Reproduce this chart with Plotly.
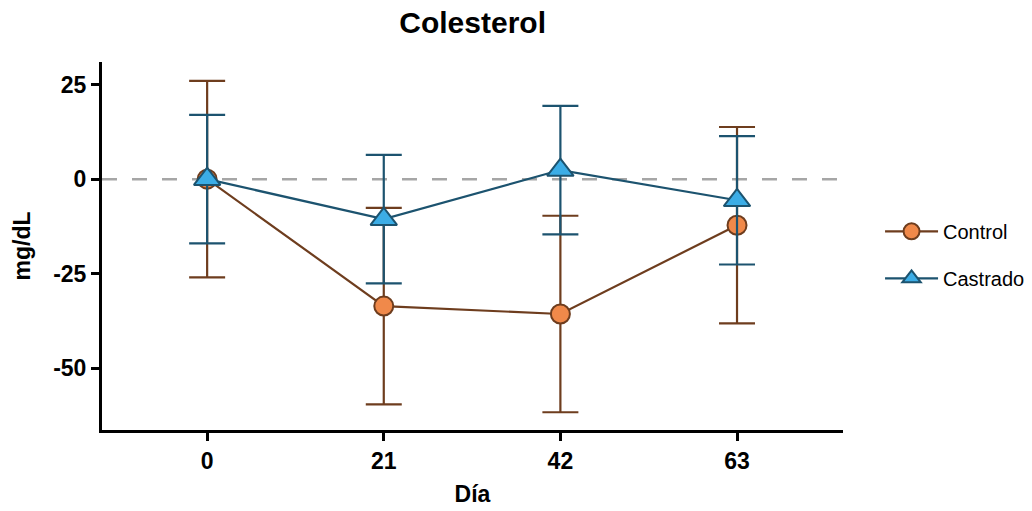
import plotly.graph_objects as go

dias = [0, 21, 42, 63]
control = [0, -33.6, -35.7, -12.2]
control_err = [26, 26, 26, 26]
castrado = [0, -10.6, 2.4, -5.6]
castrado_err = [17, 17, 17, 17]
yticks = [-50, -25, 0, 25]

brown = "#6E3D1E"
orange = "#F0894A"
navy = "#1C536F"
sky = "#3CADE6"

fig = go.Figure()
fig.add_trace(go.Scatter(
    x=dias, y=control, name="Control", mode="lines+markers",
    line=dict(color=brown, width=2.2),
    marker=dict(symbol="circle", size=19, color=orange, line=dict(color=brown, width=2)),
    error_y=dict(type="data", array=control_err, visible=True, color=brown, thickness=2.2, width=18),
    legendgroup="a",
))
fig.add_trace(go.Scatter(
    x=dias, y=castrado, name="Castrado", mode="lines+markers",
    line=dict(color=navy, width=2.2),
    marker=dict(symbol="triangle-up", size=23, color=sky, line=dict(color=navy, width=2)),
    error_y=dict(type="data", array=castrado_err, visible=True, color=navy, thickness=2.2, width=18),
    legendgroup="b",
))

fig.add_shape(type="line", xref="paper", yref="y", x0=0, x1=1, y0=0, y1=0,
              line=dict(color="#A6A6A6", width=2.5, dash="15px,15px"), layer="below")

tick_font = dict(family="Liberation Sans", size=23, color="black")
title_font = dict(family="Liberation Sans", size=23, color="black")
fig.update_layout(
    width=1032, height=511,
    margin=dict(l=102, r=189, t=62, b=81, autoexpand=False),
    paper_bgcolor="white", plot_bgcolor="white",
    title=dict(text="<b>Colesterol</b>", x=0.458, xanchor="center",
               y=1 - 22 / 511, yanchor="middle",
               font=dict(family="Liberation Sans", size=30, color="black")),
    xaxis=dict(range=[-12.5, 75.6], tickvals=dias, ticktext=[f"<b>{d}</b>" for d in dias],
               showgrid=False, zeroline=False, showline=True, linecolor="black", linewidth=3,
               ticks="outside", ticklen=8, tickwidth=3, tickcolor="black",
               tickfont=tick_font, automargin=False,
               title=dict(text="<b>Día</b>", font=title_font, standoff=14)),
    yaxis=dict(range=[-66.4, 31], tickvals=yticks, ticktext=[f"<b>{v}</b>" for v in yticks],
               showgrid=False, zeroline=False, showline=True, linecolor="black", linewidth=3,
               ticks="outside", ticklen=8, tickwidth=3, tickcolor="black",
               tickfont=tick_font, automargin=False,
               title=dict(text="<b>mg/dL</b>", font=title_font, standoff=17)),
    legend=dict(x=1.050, y=0.476, xanchor="left", yanchor="middle",
                font=dict(family="Liberation Sans", size=20, color="black"),
                tracegroupgap=18, itemwidth=53, bgcolor="rgba(0,0,0,0)"),
    showlegend=True,
)
fig.write_html("out.html")
